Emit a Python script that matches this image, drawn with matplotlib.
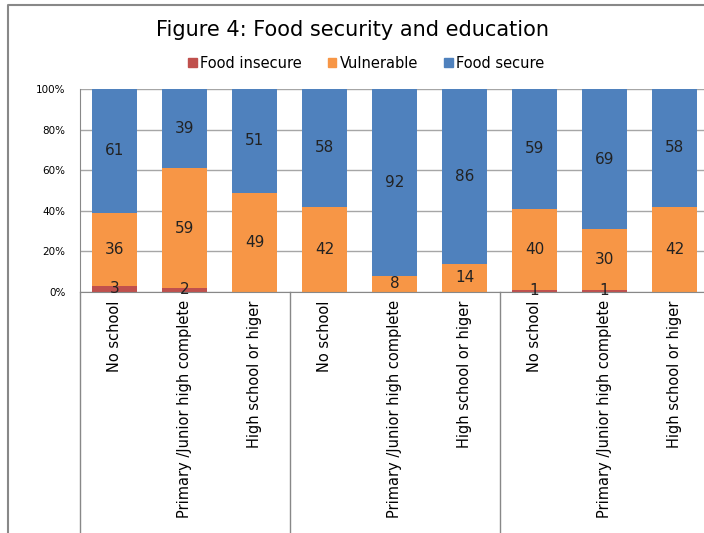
import numpy as np
import matplotlib
matplotlib.use('Agg')
import matplotlib.pyplot as plt
from matplotlib.lines import Line2D
from matplotlib.patches import Patch

categories = ['No school', 'Primary /Junior high complete', 'High school or higer',
              'No school', 'Primary /Junior high complete', 'High school or higer',
              'No school', 'Primary /Junior high complete', 'High school or higer']
food_insecure = [3, 2, 0, 0, 0, 0, 1, 1, 0]
vulnerable = [36, 59, 49, 42, 8, 14, 40, 30, 42]
food_secure = [61, 39, 51, 58, 92, 86, 59, 69, 58]
series_names = ['Food insecure', 'Vulnerable', 'Food secure']
colors = ['#C0504D', '#F79646', '#4F81BD']

W, H = 704, 533
fig = plt.figure(figsize=(W / 100, H / 100), dpi=100)
ax = fig.add_axes([79.5 / W, (H - 292) / H, 630 / W, 203 / H])

x = np.arange(len(categories))
bottom = np.zeros(len(categories))
for vals, col in zip([food_insecure, vulnerable, food_secure], colors):
    vals = np.array(vals, dtype=float)
    ax.bar(x, vals, 0.643, bottom=bottom, color=col, zorder=2)
    for xi, b, v in zip(x, bottom, vals):
        if v > 0:
            ax.text(xi, b + v / 2, '%d' % v, ha='center', va='center',
                    fontsize=11, color='#222222', zorder=3)
    bottom += vals

ax.set_xlim(-0.5, len(categories) - 0.5)
ax.set_ylim(0, 100)
ax.set_yticks(range(0, 101, 20))
ax.set_yticklabels(['%d%%' % v for v in range(0, 101, 20)], fontsize=7.5)
ax.tick_params(axis='y', length=0, pad=10)
ax.yaxis.grid(True, color='#A6A6A6', linewidth=1, zorder=0)
ax.set_xticks(x)
ax.set_xticklabels(categories, rotation=90, va='top', ha='center', fontsize=10.5)
ax.tick_params(axis='x', length=0, pad=6)
for s in ['top', 'right']:
    ax.spines[s].set_visible(False)
ax.spines['left'].set_color('#888888')
ax.spines['bottom'].set_color('#888888')

# group separators and extended axis line below the plot
for xs in [-0.5, 2.5, 5.5]:
    ax.add_line(Line2D([xs, xs], [0, -130], color='#888888', linewidth=1,
                       clip_on=False))

fig.text(352 / W, 1 - 30 / H, 'Figure 4: Food security and education',
         ha='center', va='center', fontsize=15)
handles = [Patch(color=c) for c in colors]
fig.legend(handles, series_names, loc='center', bbox_to_anchor=(366 / W, 1 - 63 / H),
           ncol=3, frameon=False, fontsize=10.5, handlelength=0.6, handleheight=0.6,
           handletextpad=0.2, columnspacing=1.8)

# outer chart frame
fig.add_artist(Line2D([8 / W, 8 / W, 1], [0, 1 - 5 / H, 1 - 5 / H],
                      transform=fig.transFigure, color='#888888', linewidth=1.5))

fig.savefig('out.png', dpi=100)
